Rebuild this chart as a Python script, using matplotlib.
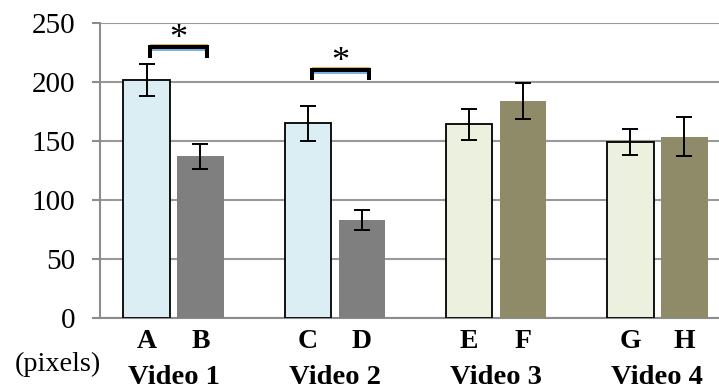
import numpy as np
import matplotlib
matplotlib.use('Agg')
import matplotlib.pyplot as plt
from matplotlib.ticker import MultipleLocator
from matplotlib.transforms import blended_transform_factory

plt.rcParams['font.family'] = ['Liberation Serif', 'DejaVu Serif']

# data
videos = ['Video 1', 'Video 2', 'Video 3', 'Video 4']
letters = ['A', 'B', 'C', 'D', 'E', 'F', 'G', 'H']
means = [201.5, 137, 165, 83, 164, 184, 149, 153.5]
errors = [13.5, 10.5, 15, 8.5, 13, 15, 11, 16.5]
colors = ['#DBEEF4', '#7F7F7F', '#DBEEF4', '#7F7F7F',
          '#EBF1DE', '#8F8A68', '#EBF1DE', '#8F8A68']
edged = [True, False, True, False, True, False, True, False]

# significance brackets: (x start, x end, y top, y leg bottom)
brackets = [(-0.146, 0.21, 229.7, 220.5), (0.856, 1.21, 210.4, 202)]

W, H = 719, 390
fig = plt.figure(figsize=(W / 100, H / 100), dpi=100)
ax = fig.add_axes([100 / W, 1 - 318 / H, 619 / W, 295 / H])

group = np.arange(len(videos))
offset = 0.167
width = 0.288
xs = np.ravel(np.column_stack([group - offset, group + offset]))

for x, m, e, c, ed in zip(xs, means, errors, colors, edged):
    ax.bar(x, m, width=width, color=c,
           edgecolor='black' if ed else c, linewidth=1.3 if ed else 0, zorder=3)
    ax.errorbar(x, m, yerr=e, fmt='none', ecolor='black', elinewidth=1.4,
                capsize=5.5, capthick=1.4, zorder=4)

px = 250 / 295  # data units per pixel
for x0, x1, ytop, ybot in brackets:
    ax.plot([x0, x1], [ytop + 2.6 * px] * 2, color='#E8A33C', lw=0.6, zorder=5)
    ax.plot([x0, x1], [ytop - 2.9 * px] * 2, color='#4F9FE0', lw=1.1, zorder=5)
    ax.plot([x0, x0, x1, x1], [ybot, ytop, ytop, ybot], color='black', lw=2.9,
            solid_joinstyle='miter', solid_capstyle='butt', zorder=6)
    ax.text((x0 + x1) / 2, ytop - 1.5 * px, '*', ha='center', va='baseline',
            fontsize=26, zorder=7, clip_on=False)

ax.set_ylim(0, 250)
ax.set_xlim(-0.456, 3.382)
ax.yaxis.set_major_locator(MultipleLocator(50))
ax.grid(axis='y', color='#999999', lw=1.5, zorder=0)
ax.set_axisbelow(True)
for s in ['top', 'right']:
    ax.spines[s].set_visible(False)
ax.spines['left'].set_color('#8C8C8C')
ax.spines['bottom'].set_color('#8C8C8C')
ax.spines['left'].set_linewidth(1.5)
ax.spines['bottom'].set_linewidth(1.5)
ax.tick_params(axis='y', colors='#8C8C8C', length=6, width=1.5, pad=12,
               labelsize=21, labelcolor='black')
ax.set_xticks([])

tr = blended_transform_factory(ax.transData, fig.transFigure)
for x, lab in zip(xs, letters):
    ax.text(x, 1 - 348 / H, lab, transform=tr, ha='center', va='baseline',
            fontsize=20, fontweight='bold')
for x, lab in zip(group, videos):
    ax.text(x, 1 - 384 / H, lab, transform=tr, ha='center', va='baseline',
            fontsize=20.5, fontweight='bold')
fig.text(57.5 / W, 1 - 371 / H, '(pixels)', ha='center', va='baseline', fontsize=20.3)

fig.savefig('out.png', dpi=100)
